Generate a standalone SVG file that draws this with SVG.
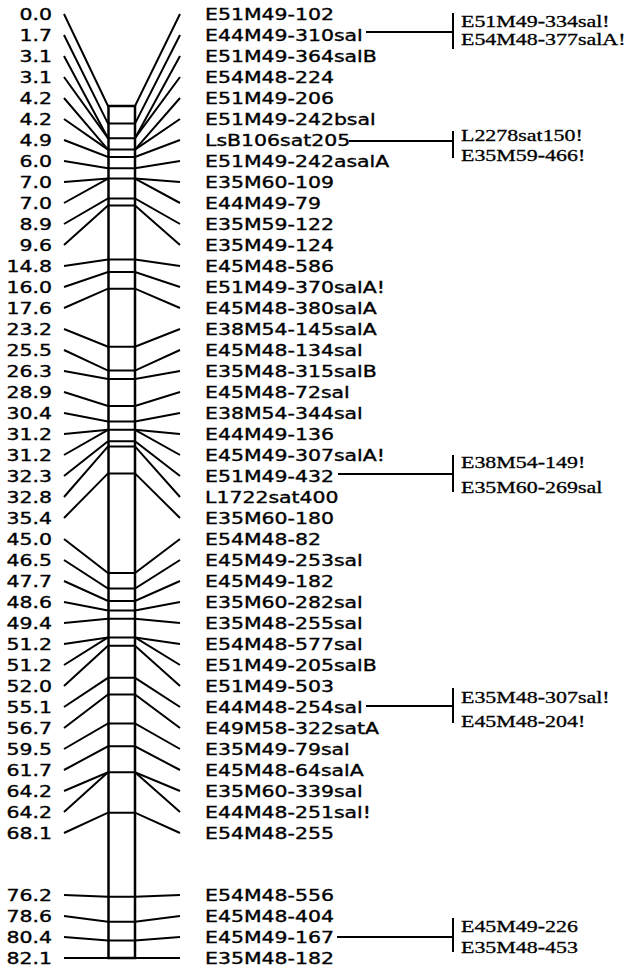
<svg xmlns="http://www.w3.org/2000/svg" width="627" height="970" viewBox="0 0 627 970">
<style>
.ln{stroke:#000;stroke-width:2;fill:none;stroke-linecap:butt}
.bar{stroke:#000;stroke-width:2.5;fill:#fff}
.sans{font-family:"DejaVu Sans",sans-serif;font-size:16px;fill:#000;stroke:#000;stroke-width:0.35}
.num{text-anchor:end}
.ser{font-family:"Liberation Serif",serif;font-size:16.5px;fill:#000;stroke:#000;stroke-width:0.3}
</style>
<rect width="627" height="970" fill="#fff"/>
<g id="connectors">
<rect id="chromosome" class="bar" x="108.5" y="106" width="26.5" height="852"/>
<g class="ln">
<path d="M64,14L108,106H135L180,14"/>
<path d="M64,35L108,123.6H135L180,35"/>
<path d="M64,56L108,138.2H135L180,56"/>
<path d="M64,77L108,138.2M135,138.2L180,77"/>
<path d="M64,98L108,149.6H135L180,98"/>
<path d="M64,119L108,149.6M135,149.6L180,119"/>
<path d="M64,140L108,156.9H135L180,140"/>
<path d="M64,161L108,168.3H135L180,161"/>
<path d="M64,182L108,178.6H135L180,182"/>
<path d="M64,203L108,178.6M135,178.6L180,203"/>
<path d="M64,224L108,198.4H135L180,224"/>
<path d="M64,245L108,205.6H135L180,245"/>
<path d="M64,266L108,259.6H135L180,266"/>
<path d="M64,287L108,272H135L180,287"/>
<path d="M64,308L108,288.7H135L180,308"/>
<path d="M64,329L108,346.8H135L180,329"/>
<path d="M64,350L108,370.6H135L180,350"/>
<path d="M64,371L108,378.9H135L180,371"/>
<path d="M64,392L108,405.9H135L180,392"/>
<path d="M64,413L108,421.5H135L180,413"/>
<path d="M64,434L108,429.8H135L180,434"/>
<path d="M64,455L108,429.8M135,429.8L180,455"/>
<path d="M64,476L108,441.2H135L180,476"/>
<path d="M64,497L108,446.4H135L180,497"/>
<path d="M64,518L108,473.4H135L180,518"/>
<path d="M64,539L108,573H135L180,539"/>
<path d="M64,560L108,588.6H135L180,560"/>
<path d="M64,581L108,601H135L180,581"/>
<path d="M64,602L108,610.4H135L180,602"/>
<path d="M64,623L108,618.7H135L180,623"/>
<path d="M64,644L108,637.4H135L180,644"/>
<path d="M64,665L108,637.4M135,637.4L180,665"/>
<path d="M64,686L108,645.7H135L180,686"/>
<path d="M64,707L108,677.8H135L180,707"/>
<path d="M64,728L108,694.4H135L180,728"/>
<path d="M64,749L108,723.5H135L180,749"/>
<path d="M64,770L108,746.3H135L180,770"/>
<path d="M64,791L108,772.3H135L180,791"/>
<path d="M64,812L108,772.3M135,772.3L180,812"/>
<path d="M64,833L108,812.7H135L180,833"/>
<path d="M64,895L108,896.8H135L180,895"/>
<path d="M64,916L108,921.7H135L180,916"/>
<path d="M64,937L108,940.4H135L180,937"/>
<path d="M64,958L108,958H135L180,958"/>
</g>
<g class="ln">
<path d="M366,32H453M453,13V49"/>
<path d="M349,141H453M453,131V158"/>
<path d="M338,474H453M453,455V492"/>
<path d="M366,706H453M453,688V723"/>
<path d="M337,937H453M453,918V952"/>
</g>
</g>
<g id="positions" class="sans num" transform="translate(52,0) scale(1.278,1)">
<text y="20">0.0</text><text y="41">1.7</text><text y="62">3.1</text><text y="83">3.1</text>
<text y="104">4.2</text><text y="125">4.2</text><text y="146">4.9</text><text y="167">6.0</text>
<text y="188">7.0</text><text y="209">7.0</text><text y="230">8.9</text><text y="251">9.6</text>
<text y="272">14.8</text><text y="293">16.0</text><text y="314">17.6</text><text y="335">23.2</text>
<text y="356">25.5</text><text y="377">26.3</text><text y="398">28.9</text><text y="419">30.4</text>
<text y="440">31.2</text><text y="461">31.2</text><text y="482">32.3</text><text y="503">32.8</text>
<text y="524">35.4</text><text y="545">45.0</text><text y="566">46.5</text><text y="587">47.7</text>
<text y="608">48.6</text><text y="629">49.4</text><text y="650">51.2</text><text y="671">51.2</text>
<text y="692">52.0</text><text y="713">55.1</text><text y="734">56.7</text><text y="755">59.5</text>
<text y="776">61.7</text><text y="797">64.2</text><text y="818">64.2</text><text y="839">68.1</text>
<text y="901">76.2</text><text y="922">78.6</text><text y="943">80.4</text><text y="964">82.1</text>
</g>
<g id="markers" class="sans" transform="translate(205,0) scale(1.278,1)">
<text y="20">E51M49-102</text><text y="41">E44M49-310sal</text><text y="62">E51M49-364salB</text><text y="83">E54M48-224</text>
<text y="104">E51M49-206</text><text y="125">E51M49-242bsal</text><text y="146">LsB106sat205</text><text y="167">E51M49-242asalA</text>
<text y="188">E35M60-109</text><text y="209">E44M49-79</text><text y="230">E35M59-122</text><text y="251">E35M49-124</text>
<text y="272">E45M48-586</text><text y="293">E51M49-370salA!</text><text y="314">E45M48-380salA</text><text y="335">E38M54-145salA</text>
<text y="356">E45M48-134sal</text><text y="377">E35M48-315salB</text><text y="398">E45M48-72sal</text><text y="419">E38M54-344sal</text>
<text y="440">E44M49-136</text><text y="461">E45M49-307salA!</text><text y="482">E51M49-432</text><text y="503">L1722sat400</text>
<text y="524">E35M60-180</text><text y="545">E54M48-82</text><text y="566">E45M49-253sal</text><text y="587">E45M49-182</text>
<text y="608">E35M60-282sal</text><text y="629">E35M48-255sal</text><text y="650">E54M48-577sal</text><text y="671">E51M49-205salB</text>
<text y="692">E51M49-503</text><text y="713">E44M48-254sal</text><text y="734">E49M58-322satA</text><text y="755">E35M49-79sal</text>
<text y="776">E45M48-64salA</text><text y="797">E35M60-339sal</text><text y="818">E44M48-251sal!</text><text y="839">E54M48-255</text>
<text y="901">E54M48-556</text><text y="922">E45M48-404</text><text y="943">E45M49-167</text><text y="964">E35M48-182</text>
</g>
<g id="cosegregating" class="ser" transform="translate(461,0) scale(1.33,1)">
<text y="27">E51M49-334sal!</text><text y="45">E54M48-377salA!</text>
<text y="141">L2278sat150!</text><text y="161">E35M59-466!</text>
<text y="468">E38M54-149!</text><text y="493">E35M60-269sal</text>
<text y="703">E35M48-307sal!</text><text y="727">E45M48-204!</text>
<text y="932">E45M49-226</text><text y="953">E35M48-453</text>
</g>
</svg>
